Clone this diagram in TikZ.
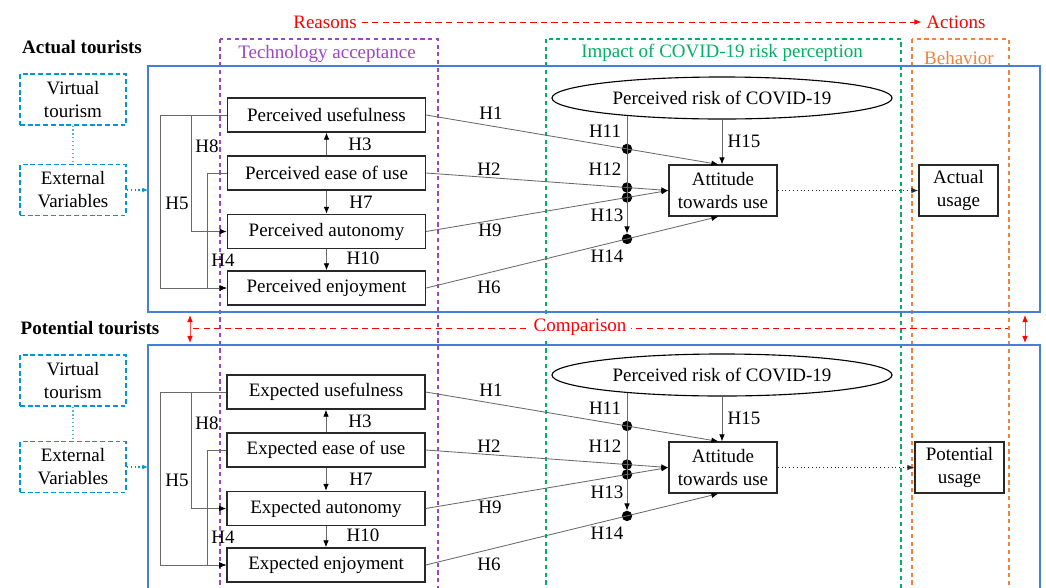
\documentclass[tikz,border=0pt]{standalone}
\usepackage{fontspec}
\setmainfont{Liberation Serif}
\usetikzlibrary{arrows.meta}
\usetikzlibrary{shapes.geometric}

\definecolor{boxline}{RGB}{40,40,40}
\definecolor{linkgray}{RGB}{105,105,105}
\definecolor{framecol}{RGB}{68,128,216}
\definecolor{cyanbox}{RGB}{0,150,215}
\definecolor{purplebox}{RGB}{155,70,195}
\definecolor{greenbox}{RGB}{0,176,100}
\definecolor{orangebox}{RGB}{240,130,60}

\begin{document}
\begin{tikzpicture}[
    x=0.025cm, y=-0.025cm,
    every node/.style={font=\fontsize{13.5}{16.3}\selectfont},
    construct/.style={draw=boxline, line width=1pt, fill=white, minimum width=4.95cm, minimum height=0.85cm, inner sep=0pt},
    outcome/.style={draw=boxline, line width=1pt, fill=white, align=center, minimum height=1.27cm, inner sep=0pt},
    extvar/.style={draw=cyanbox, line width=0.9pt, dash pattern=on 3.5pt off 2pt, align=center, minimum width=2.65cm, minimum height=1.27cm, inner sep=0pt},
    risk/.style={ellipse, draw, line width=0.8pt, fill=white, minimum width=8.5cm, minimum height=1.05cm, inner sep=1pt},
    dot/.style={circle, fill=black, minimum size=0.26cm, inner sep=0pt},
    tie/.style={draw=linkgray, line width=0.6pt},
    link/.style={tie, -{Latex[length=5pt, width=4pt, color=black]}},
    zone/.style={line width=0.8pt, dash pattern=on 3pt off 2.5pt},
    tourframe/.style={draw=framecol, line width=0.9pt},
    hint/.style={draw=cyanbox!70, line width=0.8pt, dotted},
    redline/.style={draw=red, line width=0.7pt, dash pattern=on 4.5pt off 3pt},
    twoway/.style={draw=red!70, line width=0.6pt, {Latex[length=5pt, width=4pt, color=red]}-{Latex[length=5pt, width=4pt, color=red]}}
]
\useasboundingbox (0,0) rectangle (1046,587);
\clip (0,0) rectangle (1046,587);

% Column zones
\draw[zone, draw=purplebox] (220,39) rectangle (438,600);
\draw[zone, draw=greenbox] (546,39) rectangle (901,600);
\draw[zone, draw=orangebox] (912,39) rectangle (1009,600);
\node[text=purplebox] (techlab) at (327,54) {Technology acceptance};
\node[text=greenbox] (covidlab) at (722,53) {Impact of COVID-19 risk perception};
\node[text=orangebox] (behavlab) at (959,58) {Behavior};

% Reasons -> Actions
\node[text=red] (reasons) at (325,22) {Reasons};
\node[text=red] (actions) at (956,22) {Actions};
\draw[redline, -{Latex[length=5pt, width=4pt]}] (reasons) -- (actions);

% Group frames
\draw[tourframe] (148,66) rectangle (1040,312);
\draw[tourframe] (148,345) rectangle (1040,600);

% Comparison between the groups
\coordinate (cmpl) at (193,328);
\coordinate (cmpr) at (1008,328);
\draw[redline] (cmpl) -- (cmpr);
\node[text=red, fill=white] (cmp) at (580,327) {Comparison};
\coordinate (gapla) at (190,315);
\coordinate (gaplb) at (190,343);
\draw[twoway] (gapla) -- (gaplb);
\coordinate (gapra) at (1025,315);
\coordinate (gaprb) at (1025,343);
\draw[twoway] (gapra) -- (gaprb);

% vertical axis of the moderating dots
\coordinate (axis1) at (627,0);
\coordinate (axis2) at (627,600);

% Top half (Actual tourists)
\node[font=\fontsize{13.5}{16}\selectfont\bfseries] (actual) at (82,47) {Actual tourists};
\node[extvar] (avt) at (73,99.5) {Virtual\\tourism};
\node[extvar] (aev) at (73,190) {External\\Variables};
\draw[hint] (avt) -- (aev);
\coordinate (ain) at (148,190);
\draw[hint, draw=cyanbox, -{Latex[length=4pt, width=3.5pt]}] (aev) -- (ain);

\node[construct] (pu) at (326.5,115) {Perceived usefulness};
\node[construct] (pe) at (326.5,173) {Perceived ease of use};
\node[construct] (pa) at (326.5,231.5) {Perceived autonomy};
\node[construct] (pj) at (326.5,288) {Perceived enjoyment};
\node[risk] (pr) at (722,98) {Perceived risk of COVID-19};
\node[outcome, minimum width=2.7cm] (pt) at (723,190.5) {Attitude\\towards use};
\node[outcome, minimum width=1.975cm] (pus) at (958.5,190.5) {Actual\\usage};

\node[dot] (p11) at (intersection of pu.east--pt.100 and axis1--axis2) {};
\node[dot] (p12) at (intersection of pe.east--pt.west and axis1--axis2) {};
\node[dot] (p13) at (intersection of pa.east--pt.west and axis1--axis2) {};
\node[dot] (p14) at (intersection of pj.east--pt.260 and axis1--axis2) {};

\draw[link] (pe) -- (pu);
\draw[link] (pe) -- (pa);
\draw[link] (pa) -- (pj);
\draw[link] (pu.west) -- ++(-35,0) |- (pa.west);
\draw[link] (pu.west) -- ++(-66,0) |- (pj.west);
\draw[link] (pe.west) -- ++(-19,0) |- (pj.west);
\draw[link] (pu.east) -- (pt.100);
\draw[link] (pe.east) -- (pt.west);
\draw[link] (pa.east) -- (pt.west);
\draw[link] (pj.east) -- (pt.260);
\draw[link] (p14 |- pr.190.4) -- (p14);
\draw[link] (pr.south) -- (pr.south |- pt.north);
\draw[draw=boxline, dotted, line width=0.7pt, -{Latex[length=5pt, width=4pt]}] (pt) -- (pus);

\node (ah1) at (491,113) {H1};
\node (ah2) at (489,169) {H2};
\node (ah9) at (490,230) {H9};
\node (ah6) at (489,287) {H6};
\node (ah3) at (360,144) {H3};
\node (ah7) at (361,202) {H7};
\node (ah10) at (363,258) {H10};
\node (ah8) at (207,146) {H8};
\node (ah5) at (177,203) {H5};
\node (ah4) at (223,260) {H4};
\node (ah11) at (605,131) {H11};
\node (ah12) at (605,169) {H12};
\node (ah13) at (607,215) {H13};
\node (ah14) at (607,256) {H14};
\node (ah15) at (744,141) {H15};

% Bottom half (Potential tourists)
\node[font=\fontsize{13.5}{16}\selectfont\bfseries] (potential) at (90,328) {Potential tourists};
\node[extvar] (bvt) at (73,380.5) {Virtual\\tourism};
\node[extvar] (bev) at (73,467) {External\\Variables};
\draw[hint] (bvt) -- (bev);
\coordinate (bin) at (148,467);
\draw[hint, draw=cyanbox, -{Latex[length=4pt, width=3.5pt]}] (bev) -- (bin);

\node[construct] (eu) at (326,392) {Expected usefulness};
\node[construct] (ee) at (326,450) {Expected ease of use};
\node[construct] (ea) at (326,508.5) {Expected autonomy};
\node[construct] (ej) at (326,565) {Expected enjoyment};
\node[risk] (er) at (722,375) {Perceived risk of COVID-19};
\node[outcome, minimum width=2.7cm] (et) at (723,467.5) {Attitude\\towards use};
\node[outcome, minimum width=2.225cm] (eus) at (959.5,467.5) {Potential\\usage};

\node[dot] (e11) at (intersection of eu.east--et.100 and axis1--axis2) {};
\node[dot] (e12) at (intersection of ee.east--et.west and axis1--axis2) {};
\node[dot] (e13) at (intersection of ea.east--et.west and axis1--axis2) {};
\node[dot] (e14) at (intersection of ej.east--et.260 and axis1--axis2) {};

\draw[link] (ee) -- (eu);
\draw[link] (ee) -- (ea);
\draw[link] (ea) -- (ej);
\draw[link] (eu.west) -- ++(-35,0) |- (ea.west);
\draw[link] (eu.west) -- ++(-66,0) |- (ej.west);
\draw[link] (ee.west) -- ++(-19,0) |- (ej.west);
\draw[link] (eu.east) -- (et.100);
\draw[link] (ee.east) -- (et.west);
\draw[link] (ea.east) -- (et.west);
\draw[link] (ej.east) -- (et.260);
\draw[link] (e14 |- er.190.4) -- (e14);
\draw[link] (er.south) -- (er.south |- et.north);
\draw[draw=boxline, dotted, line width=0.7pt, -{Latex[length=5pt, width=4pt]}] (et) -- (eus);

\node (bh1) at (491,390) {H1};
\node (bh2) at (489,446) {H2};
\node (bh9) at (490,507) {H9};
\node (bh6) at (489,564) {H6};
\node (bh3) at (360,421) {H3};
\node (bh7) at (361,479) {H7};
\node (bh10) at (363,535) {H10};
\node (bh8) at (207,423) {H8};
\node (bh5) at (177,480) {H5};
\node (bh4) at (223,537) {H4};
\node (bh11) at (605,408) {H11};
\node (bh12) at (605,446) {H12};
\node (bh13) at (607,492) {H13};
\node (bh14) at (607,533) {H14};
\node (bh15) at (744,418) {H15};

\end{tikzpicture}
\end{document}
